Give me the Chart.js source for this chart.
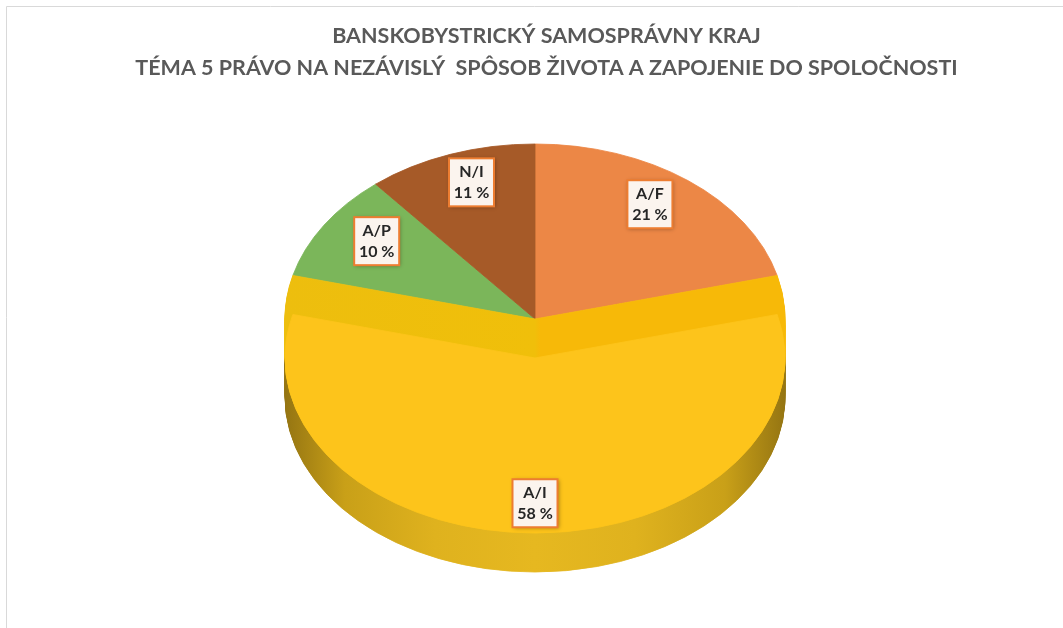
<!DOCTYPE html>
<html>
<head>
<meta charset="utf-8">
<script src="https://cdn.jsdelivr.net/npm/chart.js@4.4.1/dist/chart.umd.min.js"></script>
<style>
  html, body { margin: 0; padding: 0; background: #ffffff; }
  canvas { display: block; }
</style>
</head>
<body>
<canvas id="c" width="1063" height="628"></canvas>
<script>
const titleLines = ['BANSKOBYSTRICKÝ SAMOSPRÁVNY KRAJ', 'TÉMA 5 PRÁVO NA NEZÁVISLÝ  SPÔSOB ŽIVOTA A ZAPOJENIE DO SPOLOČNOSTI'];
const categories = ['A/F', 'A/I', 'A/P', 'N/I'];
const values = [21, 58, 10, 11];
const sliceColors = ['#EC8746', '#FDC41B', '#7BB65A', '#A65A28'];
const explodedIndex = 1;

const view = { cx: 535, cy: 319, k: 0.70, explode: 39, depth: 39, radius: 250 };

function drawArcCopy(ctx, chart, el, dy, color) {
  const orig = el.options;
  el.options = Object.assign({}, orig, { backgroundColor: color, borderColor: color, borderWidth: 1, offset: 0 });
  ctx.save();
  ctx.translate(view.cx - el.x, view.cy + dy);
  ctx.scale(1, view.k);
  ctx.translate(0, -el.y);
  el.draw(ctx);
  ctx.restore();
  el.options = orig;
}

const tiltPlugin = {
  id: 'tilt3d',
  beforeDraw(chart) {
    const ctx = chart.ctx;
    ctx.save();
    ctx.strokeStyle = '#D9D9D9';
    ctx.lineWidth = 1;
    ctx.beginPath();
    ctx.moveTo(6.5, 628); ctx.lineTo(6.5, 6.5); ctx.lineTo(1063, 6.5);
    ctx.stroke();
    ctx.restore();
  },
  beforeDatasetsDraw(chart) {
    const ctx = chart.ctx;
    const arcs = chart.getDatasetMeta(0).data;
    // back slices
    arcs.forEach((el, i) => {
      if (i !== explodedIndex) drawArcCopy(ctx, chart, el, 0, sliceColors[i]);
    });
    const el = arcs[explodedIndex];
    const R = el.outerRadius;
    // side of exploded slice
    const grad = ctx.createLinearGradient(el.x - R, 0, el.x + R, 0);
    grad.addColorStop(0, '#957512');
    grad.addColorStop(0.12, '#C9A018');
    grad.addColorStop(0.3, '#DFB21E');
    grad.addColorStop(0.5, '#E6B820');
    grad.addColorStop(0.7, '#DFB21E');
    grad.addColorStop(0.88, '#C9A018');
    grad.addColorStop(1, '#957512');
    for (let d = view.explode + view.depth; d > view.explode; d--) {
      drawArcCopy(ctx, chart, el, d, grad);
    }
    // inner walls band
    const band = ctx.createLinearGradient(el.x - R, 0, el.x + R, 0);
    band.addColorStop(0, '#EDBE0E');
    band.addColorStop(0.5, '#F0BF0A');
    band.addColorStop(0.51, '#F7B908');
    band.addColorStop(1, '#F7B908');
    for (let d = 0; d < view.explode; d++) {
      drawArcCopy(ctx, chart, el, d, band);
    }
    // top face
    drawArcCopy(ctx, chart, el, view.explode, sliceColors[explodedIndex]);

    // labels
    arcs.forEach((a, i) => {
      const mid = (a.startAngle + a.endAngle) / 2;
      const dy = i === explodedIndex ? view.explode : 0;
      const sx = view.cx + 0.75 * R * Math.cos(mid);
      const sy = view.cy + dy + 0.83 * view.k * R * Math.sin(mid);
      const w = 45, h = 48;
      ctx.save();
      ctx.shadowColor = 'rgba(0,0,0,0.35)';
      ctx.shadowBlur = 4;
      ctx.shadowOffsetX = 1;
      ctx.shadowOffsetY = 1;
      ctx.fillStyle = '#FBF4EE';
      ctx.fillRect(sx - w / 2, sy - h / 2, w, h);
      ctx.restore();
      ctx.save();
      ctx.strokeStyle = '#ED7D31';
      ctx.lineWidth = 2;
      ctx.strokeRect(sx - w / 2, sy - h / 2, w, h);
      ctx.fillStyle = '#262626';
      ctx.font = 'bold 16px Lato, "Open Sans", sans-serif';
      ctx.textAlign = 'center';
      ctx.textBaseline = 'middle';
      ctx.fillText(categories[i], sx, sy - 10);
      ctx.fillText(values[i] + ' %', sx, sy + 11);
      ctx.restore();
    });
    return false;
  }
};

new Chart(document.getElementById('c'), {
  type: 'pie',
  data: {
    labels: categories,
    datasets: [{
      data: values,
      backgroundColor: sliceColors,
      borderWidth: 0
    }]
  },
  options: {
    responsive: false,
    animation: false,
    radius: view.radius,
    layout: { padding: { left: 30 } },
    plugins: {
      legend: { display: false },
      tooltip: { enabled: false },
      title: {
        display: true,
        text: titleLines,
        color: '#595959',
        font: { family: 'Lato, "Open Sans", sans-serif', size: 21.5, weight: 'bold', lineHeight: 1.5 },
        padding: { top: 20, bottom: 10 }
      }
    }
  },
  plugins: [tiltPlugin]
});
</script>
</body>
</html>
